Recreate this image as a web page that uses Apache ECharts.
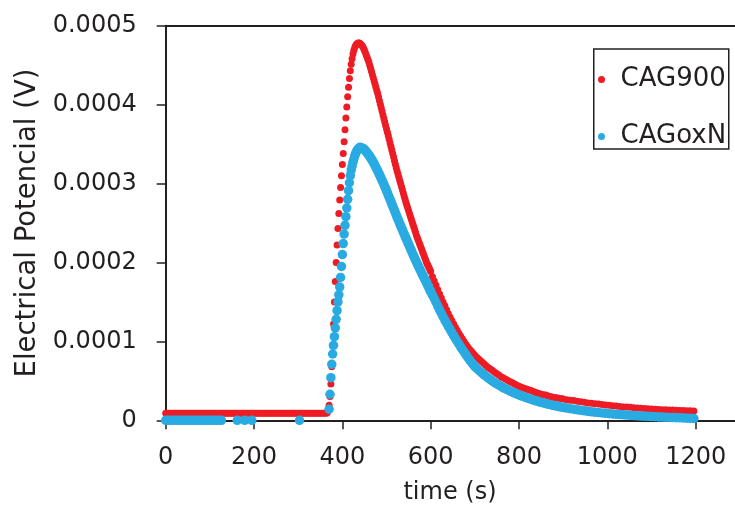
<!DOCTYPE html>
<html><head><meta charset="utf-8">
<script src="https://cdn.jsdelivr.net/npm/echarts@6/dist/echarts.min.js"></script>
<style>html,body{margin:0;padding:0;background:#fff}#c{width:735px;height:508px}</style>
</head><body><div id="c"></div><script>
// values in microvolts (µV); converted to volts when building series
const xTicks = [0, 200, 400, 600, 800, 1000, 1200];
const yTicks = ['0', '0.0001', '0.0002', '0.0003', '0.0004', '0.0005'];

const baseTimeRed = [0,4,8,12,16,20,24,28,32,36,40,44,48,52,56,60,64,68,72,76,80,84,88,92,96,100,104,108,112,116,120,124,128,132,136,140,144,148,152,156,160,164,168,172,176,180,184,188,192,196,200,204,208,212,216,220,224,228,232,236,240,244,248,252,256,260,264,268,272,276,280,284,288,292,296,300,304,308,312,316,320,324,328,332,336,340,344,348,352,356,360,364];
const baseRed = [9,9,9,9,9,9,9,9,9,9,9,9,9,9,9,9,9,9,9,9,9,9,9,9,9,9,9,9,9,9,9,9,9,9,9,9,9,9,9,9,9,9,9,9,9,9,9,9,9,9,9,9,9,9,9,9,9,9,9,9,9,9,9,9,9,9,9,9,9,9,9,9,9,9,9,9,9,9,9,9,9,9,9,9,9,9,9,9,9,9,9,9];
const riseTimeRed = [366,368,370,372,374,376,378,380,382,384,386,388,390,392,394,396,398,400,402,404,406,408,410,412,414,416,418,420,422,424,426,428,430,432,434,436,438,440];
const riseRed = [10,13,19,30,46,68,94,122,150,176,200,222,243,262,279,295,310,324,338,353,368,383,397,410,422,433,443,451,458,464,469,472.5,475,476.5,477.5,478,478,477.5];

const baseTimeBlue = [0,6,12,18,24,30,36,42,48,54,60,66,72,78,84,90,96,102,108,114,120,126,162,179,195,303];
const baseBlue = [0,0,0,0,0,0,0,0,0,0,0,0,0,0,0,0,0,0,0,0,0,0,0,0,0,0];
const riseTimeBlue = [370,372,374,376,378,380,382,384,386,388,390,392,394,396,398,400,402,404,406,408,410,412,414,416,418,420,422,424,426,428,430,432,434,436,438,440];
const riseBlue = [14,33,54,71,84,95,106,117,128,139,150,159,169,181,195,210,224,236,247,258,269,280,291,301,310,317,322,327,331,335,338,340.5,342.5,344,345,346];

const decayTime = [
442,444,446,448,450,452,454,456,458,460,462,464,466,468,470,472,474,476,478,480,
482,484,486,488,490,492,494,496,498,500,502,504,506,508,510,512,514,516,518,520,
522,524,526,528,530,532,534,536,538,540,542,544,546,548,550,552,554,556,558,560,
562,564,566,568,570,572,574,576,578,580,582,584,586,588,590,592,594,596,598,600,
604,608,612,616,620,624,628,632,636,640,644,648,652,656,660,664,668,672,676,680,684,688,692,696,700,
705,710,715,720,725,730,735,740,745,750,755,760,765,770,775,780,785,790,795,800,
805,810,815,820,825,830,835,840,845,850,855,860,865,870,875,880,885,890,895,900,
908,916,924,932,940,948,956,964,972,980,988,996,1004,1012,1020,1028,1036,1044,1052,1060,
1068,1076,1084,1092,1100,1108,1116,1124,1132,1140,1148,1156,1164,1172,1180,1188,1196];
const decayRed = [
476.5,475,473.5,471.5,469,466,463,460,457,454,450,446,442,438,434,430,426,422,418,414,
409.5,405,400.5,396,391.5,387,382.5,378,373.5,369,365,360.5,356,351.5,347,342.5,338,333.5,329,324.5,
320,316,312,308,304,300,296,292,288,284,280,276,272.5,269,265.5,262,258.5,255,251.5,248,
244.5,241,237.5,234,231,228,225,222,219,216,213,210,207,204,201,198.5,196,193.5,191,188.5,
182,176.5,171,165.5,160,155,150,145,140,135,130.5,126,122,118,114,110,106.5,103,99.5,96,93,90,87.5,85,82.5,
79.5,77,74.5,72,69.5,67,65,63,61,59,57,55,53.5,52,50.5,49,47.5,46,44.5,43,
42,41,40,39,38,37,36,35,34,33,32.5,32,31,30,29.5,29,28.5,28,27.5,27,
26,25.5,25,24,23.5,23,22,21.5,21,20.5,20,19.5,19,18.5,18,17.5,17,16.8,16.5,16,
15.7,15.4,15,14.7,14.4,14.1,13.8,13.5,13.3,13.1,12.9,12.7,12.5,12.3,12.1,12,11.8];
const decayBlue = [
345.5,345,344.5,344,343,341.8,340.5,339,337.5,336,334.3,332.5,330.8,329,327,325,322.8,320.6,318.3,316,
313.6,311.2,308.8,306.4,304,301.4,298.8,296.2,293.6,291,288.2,285.4,282.6,279.8,277,274.2,271.4,268.6,265.8,263,
260.2,257.4,254.6,251.8,249,246.4,243.8,241.2,238.6,236,233.4,230.8,228.2,225.6,223,220.4,217.8,215.2,212.6,210,
207.6,205.2,202.8,200.4,198,195.6,193.2,190.8,188.4,186,183.8,181.6,179.4,177.2,175,172.6,170.2,167.8,165.4,163,
158.6,154.2,149.6,144.8,140,135.6,131.2,127,123,119,115,111,107.2,103.6,100,96.4,92.8,89.4,86.2,83,79.8,76.6,73.6,70.8,68,
65.3,62.8,60.4,58,55.8,53.6,51.6,49.6,47.8,46,44.4,42.8,41.2,39.8,38.4,37,35.7,34.5,33.3,32.2,
31,30,29,28,27,26.1,25.2,24.4,23.6,22.8,22,21.3,20.6,19.9,19.2,18.6,18,17.4,16.8,16.3,
15.5,14.7,14,13.3,12.6,12,11.4,10.8,10.3,9.8,9.3,8.8,8.4,8,7.6,7.2,6.9,6.6,6.3,6,
5.7,5.4,5.2,5,4.7,4.5,4.3,4.1,3.9,3.7,3.5,3.3,3.1,2.9,2.7,2.5,2.3];

function pairs(ts, vs) { return ts.map((t, i) => [t, vs[i] * 1e-6]); }
const redData = pairs(baseTimeRed, baseRed).concat(pairs(riseTimeRed, riseRed), pairs(decayTime, decayRed));
const blueData = pairs(baseTimeBlue, baseBlue).concat(pairs(riseTimeBlue, riseBlue), pairs(decayTime, decayBlue));

const FONT = "'DejaVu Sans', sans-serif";
const INK = '#231F20';
const chart = echarts.init(document.getElementById('c'), null, {renderer: 'canvas'});
chart.setOption({
  animation: false,
  backgroundColor: '#ffffff',
  grid: {left: 165.7, top: 25.7, right: -49, bottom: 87.7, outerBoundsMode: 'none', containLabel: false},
  legend: {
    data: ['CAG900', 'CAGoxN'], orient: 'vertical', left: 598, top: 64.5, padding: 0,
    itemWidth: 28, itemHeight: 7, itemGap: 27, icon: 'circle', selectedMode: false,
    textStyle: {fontFamily: FONT, fontSize: 26, color: INK, lineHeight: 30, padding: [0,0,0,0]}
  },
  graphic: [
    {type: 'rect', left: 593, top: 48.3, shape: {width: 135, height: 100}, style: {fill: '#fff', stroke: INK, lineWidth: 1.5}, z: 0},
    {type: 'text', x: 28, y: 223, rotation: Math.PI / 2, style: {text: 'Electrical Potencial (V)', font: '27.5px ' + FONT, fill: INK, textAlign: 'center', textVerticalAlign: 'middle'}},
    {type: 'text', x: 450, y: 493, style: {text: 'time (s)', font: '24px ' + FONT, fill: INK, textAlign: 'center', textVerticalAlign: 'middle'}}
  ],
  xAxis: [{
    type: 'value', min: 0, max: 1400, interval: 200, position: 'bottom',
    axisLine: {show: true, onZero: false, lineStyle: {color: INK, width: 2}},
    axisTick: {show: true, inside: false, length: 9, lineStyle: {color: INK, width: 1.5}},
    axisLabel: {show: true, margin: 25, fontFamily: FONT, fontSize: 24, color: INK,
      formatter: v => xTicks.indexOf(v) >= 0 ? String(v) : ''},
    splitLine: {show: false}
  }, {
    type: 'value', min: 0, max: 1400, position: 'top',
    axisLine: {show: true, onZero: false, lineStyle: {color: INK, width: 2}},
    axisTick: {show: false}, axisLabel: {show: false}, splitLine: {show: false}
  }],
  yAxis: {
    type: 'value', min: 0, max: 0.0005, interval: 0.0001,
    axisLine: {show: true, onZero: false, lineStyle: {color: INK, width: 2}},
    axisTick: {show: true, inside: false, length: 9, lineStyle: {color: INK, width: 1.5}},
    axisLabel: {show: true, margin: 29, fontFamily: FONT, fontSize: 24, color: INK,
      formatter: v => yTicks[Math.round(v / 0.0001)]},
    splitLine: {show: false}
  },
  series: [
    {name: 'CAG900', type: 'scatter', data: redData, symbol: 'circle', symbolSize: 7, clip: false,
      itemStyle: {color: '#ED1C24', opacity: 1}, emphasis: {disabled: true}},
    {name: 'CAGoxN', type: 'scatter', data: blueData, symbol: 'circle', symbolSize: 9.5, clip: false,
      itemStyle: {color: '#29ABE2', opacity: 1}, emphasis: {disabled: true}}
  ]
});
</script></body></html>
